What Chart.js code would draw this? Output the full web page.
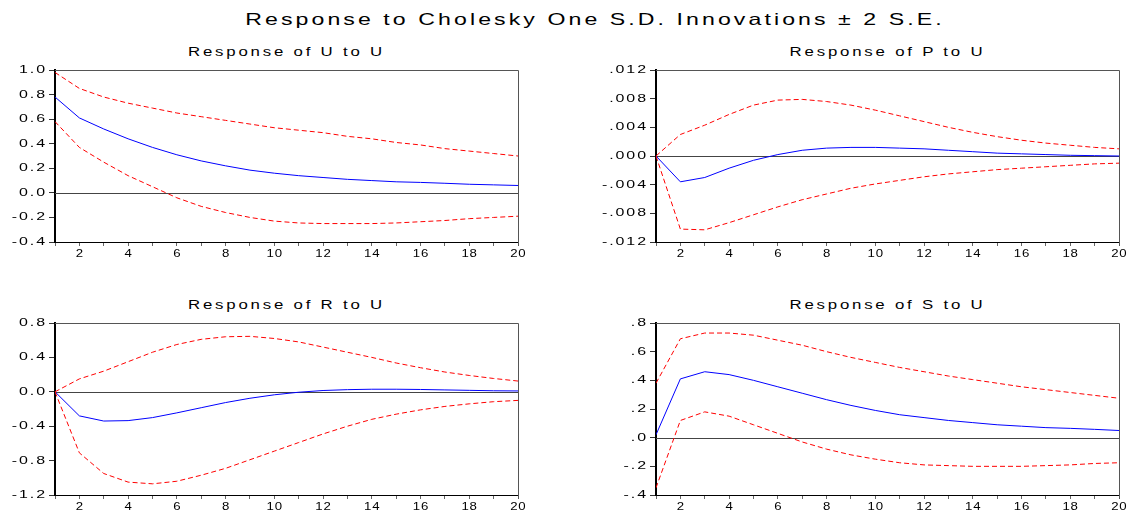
<!DOCTYPE html>
<html>
<head>
<meta charset="utf-8">
<script src="https://cdn.jsdelivr.net/npm/chart.js@4.4.1/dist/chart.umd.min.js"></script>
<style>
  body { margin: 0; background: #fff; width: 1130px; height: 510px; overflow: hidden; position: relative;
         font-family: "Liberation Sans", Arial, sans-serif; }
  .title { position: absolute; top: 10px; left: 0; width: 1190px; text-align: center; font-size: 16.5px;
           letter-spacing: 2.2px; transform: scaleX(1.4); transform-origin: 595px 0; white-space: nowrap; }
  .sub { position: absolute; font-size: 12px; letter-spacing: 2px; text-align: center; width: 463px;
         transform: scaleX(1.4); white-space: nowrap; }
  canvas { position: absolute; }
</style>
</head>
<body>
<div class="title">Response to Cholesky One S.D. Innovations ± 2 S.E.</div>
<div class="sub" style="left:55px;top:45px">Response of U to U</div>
<div class="sub" style="left:656px;top:45px">Response of P to U</div>
<div class="sub" style="left:55px;top:298px">Response of R to U</div>
<div class="sub" style="left:656px;top:298px">Response of S to U</div>
<canvas id="c1" style="left:0;top:60px"></canvas>
<canvas id="c2" style="left:600px;top:60px"></canvas>
<canvas id="c3" style="left:0;top:313px"></canvas>
<canvas id="c4" style="left:600px;top:313px"></canvas>
<script>
// periods 1..20
let periods = [1, 2, 3, 4, 5, 6, 7, 8, 9, 10, 11, 12, 13, 14, 15, 16, 17, 18, 19, 20];

// Response of U to U
let uMid = [0.78, 0.61, 0.52, 0.44, 0.37, 0.31, 0.26, 0.22, 0.185, 0.16, 0.14, 0.125, 0.11, 0.10, 0.09, 0.085, 0.078, 0.07, 0.065, 0.06];
let uUp = [0.98, 0.85, 0.78, 0.73, 0.69, 0.65, 0.62, 0.59, 0.56, 0.53, 0.51, 0.49, 0.46, 0.44, 0.41, 0.39, 0.36, 0.34, 0.32, 0.30];
let uLow = [0.58, 0.37, 0.25, 0.14, 0.05, -0.04, -0.11, -0.16, -0.20, -0.23, -0.245, -0.25, -0.25, -0.25, -0.245, -0.235, -0.225, -0.21, -0.20, -0.19];

// Response of P to U
let pMid = [0, -0.0036, -0.0030, -0.0017, -0.0006, 0.0002, 0.0008, 0.0011, 0.0012, 0.0012, 0.0011, 0.0010, 0.0008, 0.0006, 0.0004, 0.0003, 0.0002, 0.0001, 0.00005, 0.0];
let pUp = [0, 0.0030, 0.0043, 0.0058, 0.0071, 0.0078, 0.0079, 0.0076, 0.0071, 0.0064, 0.0056, 0.0048, 0.0040, 0.0033, 0.0027, 0.0022, 0.0018, 0.0015, 0.0012, 0.0010];
let pLow = [0, -0.0102, -0.0103, -0.0093, -0.0082, -0.0071, -0.0061, -0.0053, -0.0045, -0.0039, -0.0034, -0.0029, -0.0025, -0.0022, -0.0019, -0.0017, -0.0015, -0.0013, -0.0011, -0.0010];

// Response of R to U
let rMid = [0, -0.28, -0.34, -0.335, -0.30, -0.245, -0.185, -0.125, -0.075, -0.035, -0.005, 0.015, 0.025, 0.03, 0.03, 0.027, 0.022, 0.017, 0.012, 0.01];
let rUp = [0, 0.15, 0.24, 0.35, 0.46, 0.55, 0.61, 0.64, 0.645, 0.62, 0.58, 0.52, 0.46, 0.40, 0.335, 0.28, 0.23, 0.19, 0.155, 0.125];
let rLow = [0, -0.71, -0.95, -1.05, -1.07, -1.04, -0.97, -0.89, -0.79, -0.69, -0.59, -0.49, -0.40, -0.32, -0.26, -0.21, -0.17, -0.14, -0.115, -0.10];

// Response of S to U
let sMid = [0.02, 0.41, 0.46, 0.44, 0.40, 0.355, 0.31, 0.265, 0.225, 0.19, 0.16, 0.14, 0.12, 0.105, 0.09, 0.08, 0.07, 0.065, 0.058, 0.05];
let sUp = [0.38, 0.69, 0.73, 0.73, 0.715, 0.68, 0.645, 0.60, 0.56, 0.525, 0.49, 0.46, 0.43, 0.405, 0.38, 0.355, 0.335, 0.315, 0.295, 0.275];
let sLow = [-0.35, 0.12, 0.18, 0.15, 0.09, 0.03, -0.03, -0.08, -0.12, -0.15, -0.175, -0.19, -0.195, -0.20, -0.20, -0.20, -0.195, -0.19, -0.18, -0.175];

// y tick values and labels
let uTicks = [1.0, 0.8, 0.6, 0.4, 0.2, 0.0, -0.2, -0.4];
let uLabels = ["1.0", "0.8", "0.6", "0.4", "0.2", "0.0", "-0.2", "-0.4"];
let pTicks = [0.012, 0.008, 0.004, 0, -0.004, -0.008, -0.012];
let pLabels = [".012", ".008", ".004", ".000", "-.004", "-.008", "-.012"];
let rTicks = [0.8, 0.4, 0.0, -0.4, -0.8, -1.2];
let rLabels = ["0.8", "0.4", "0.0", "-0.4", "-0.8", "-1.2"];
let sTicks = [0.8, 0.6, 0.4, 0.2, 0.0, -0.2, -0.4];
let sLabels = [".8", ".6", ".4", ".2", ".0", "-.2", "-.4"];

const fontStr = "11px 'Liberation Sans', Arial, sans-serif";

// draws a stretched label (eviews text looks wide)
function wideText(ctx, txt, x, y, align, sx, sp) {
  ctx.save();
  ctx.font = fontStr;
  ctx.fillStyle = "#000";
  ctx.textBaseline = "middle";
  ctx.letterSpacing = sp + "px";
  const w = ctx.measureText(txt).width - sp;
  ctx.translate(x, y);
  ctx.scale(sx, 1);
  let left = 0;
  if (align === "right") left = -w;
  if (align === "center") left = -w / 2;
  ctx.textAlign = "left";
  ctx.fillText(txt, left, 0);
  ctx.restore();
}

function makeChart(id, width, yWidth, mid, up, low, ticks, labels) {
  const toPts = (arr) => arr.map((v, i) => ({ x: periods[i], y: v }));
  const canvas = document.getElementById(id);
  canvas.style.width = width + "px";
  canvas.style.height = "202px";
  canvas.width = width;
  canvas.height = 202;
  const dashed = (arr) => ({
    data: toPts(arr), borderColor: "#ff0000", borderWidth: 1,
    borderDash: [5, 3], pointRadius: 0, tension: 0, fill: false
  });

  // frame, zero line, tick labels
  const framePlugin = {
    id: "frame",
    beforeDatasetsDraw(chart) {
      const { ctx, chartArea: a, scales } = chart;
      const y0 = Math.round(scales.y.getPixelForValue(0)) + 0.5;
      ctx.save();
      ctx.strokeStyle = "#444";
      ctx.lineWidth = 1;
      ctx.beginPath();
      ctx.moveTo(a.left, y0);
      ctx.lineTo(a.right, y0);
      ctx.stroke();
      ctx.strokeStyle = "#555";
      ctx.beginPath();
      ctx.moveTo(a.left, Math.round(a.top) + 0.5);
      ctx.lineTo(Math.round(a.right) + 0.5, Math.round(a.top) + 0.5);
      ctx.lineTo(Math.round(a.right) + 0.5, a.bottom + 4);
      ctx.stroke();
      ctx.restore();
    },
    afterDraw(chart) {
      const { ctx, chartArea: a, scales } = chart;
      ticks.forEach((t, i) => {
        wideText(ctx, labels[i], a.left - 10, scales.y.getPixelForValue(t), "right", 1.45, 1.3);
      });
      periods.forEach((p) => {
        if (p % 2 === 0) wideText(ctx, String(p), scales.x.getPixelForValue(p), a.bottom + 12, "center", 1.2, 0.6);
      });
    }
  };

  new Chart(canvas, {
    type: "line",
    data: {
      datasets: [
        dashed(up),
        dashed(low),
        { data: toPts(mid), borderColor: "#0000ff", borderWidth: 1, pointRadius: 0, tension: 0, fill: false }
      ]
    },
    options: {
      responsive: false,
      animation: false,
      layout: { padding: { top: 10, right: width - yWidth - 463, bottom: 0, left: 0 } },
      plugins: { legend: { display: false }, tooltip: { enabled: false } },
      scales: {
        x: {
          type: "linear", min: 1, max: 20,
          afterBuildTicks: (s) => { s.ticks = periods.map((p) => ({ value: p })); },
          afterFit: (s) => { s.height = 20; },
          ticks: { display: false, autoSkip: false },
          grid: { drawOnChartArea: false, drawTicks: true, tickLength: 4, color: "#666" },
          border: { display: true, color: "#000", width: 1 }
        },
        y: {
          min: ticks[ticks.length - 1], max: ticks[0],
          afterBuildTicks: (s) => { s.ticks = ticks.map((t) => ({ value: t })); },
          afterFit: (s) => { s.width = yWidth; },
          ticks: { display: false, autoSkip: false },
          grid: { drawOnChartArea: false, drawTicks: true, tickLength: 6, color: "#333" },
          border: { display: true, color: "#000", width: 2 }
        }
      }
    },
    plugins: [framePlugin]
  });
}

makeChart("c1", 530, 55, uMid, uUp, uLow, uTicks, uLabels);
makeChart("c2", 530, 56, pMid, pUp, pLow, pTicks, pLabels);
makeChart("c3", 530, 55, rMid, rUp, rLow, rTicks, rLabels);
makeChart("c4", 530, 56, sMid, sUp, sLow, sTicks, sLabels);
</script>
</body>
</html>
